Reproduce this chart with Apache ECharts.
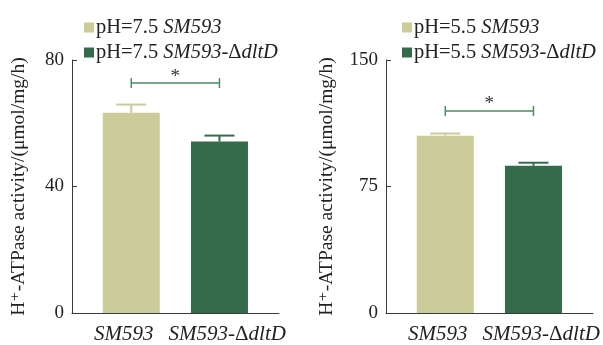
<!DOCTYPE html>
<html>
<head>
<meta charset="utf-8">
<script src="https://cdn.jsdelivr.net/npm/echarts@6/dist/echarts.min.js"></script>
<style>
html,body{margin:0;padding:0;background:#fff;}
#chart{width:603px;height:345px;}
</style>
</head>
<body>
<div id="chart"></div>
<script>
// ---- data ----
const categories = ['SM593', 'SM593-ΔdltD'];
const legend75 = ['pH=7.5 SM593', 'pH=7.5 SM593-ΔdltD'];
const legend55 = ['pH=5.5 SM593', 'pH=5.5 SM593-ΔdltD'];
const values75 = [63.3, 54.2];
const errors75 = [2.6, 1.9];
const values55 = [105.1, 87.3];
const errors55 = [1.3, 1.8];
const ticks75 = [0, 40, 80];
const ticks55 = [0, 75, 150];
const sig75 = [0, 1, 72.7];
const sig55 = [0, 1, 119.8];
const sigLabel = '*';
const yTitle = 'H⁺-ATPase activity/(μmol/mg/h)';

const colors = ['#CCCB9A', '#336B4B'];
const bracketColor = '#4E8A63';
const FONT = 'Liberation Serif, DejaVu Serif, serif';

function richName(s) {
  return s.replace(/SM593/g, '{i|SM593}').replace(/dltD/g, '{i|dltD}');
}
const rich = {
  i: { fontStyle: 'italic', fontFamily: FONT, fontSize: 20.5, color: '#222' },
};

function errorSeries(xi, yi, vals, errs) {
  return {
    type: 'custom', xAxisIndex: xi, yAxisIndex: yi, z: 3,
    data: vals.map((v, k) => [k, v, v + errs[k]]),
    renderItem: function (params, api) {
      const idx = params.dataIndex;
      const base = api.coord([api.value(0), api.value(1)]);
      const top = api.coord([api.value(0), api.value(2)]);
      const c = colors[idx];
      return {
        type: 'group', children: [
          { type: 'line', shape: { x1: base[0], y1: base[1], x2: top[0], y2: top[1] }, style: { stroke: c, lineWidth: 2 } },
          { type: 'line', shape: { x1: top[0] - 15, y1: top[1], x2: top[0] + 15, y2: top[1] }, style: { stroke: c, lineWidth: 2 } }
        ]
      };
    }
  };
}
function sigSeries(xi, yi, sig) {
  return {
    type: 'custom', xAxisIndex: xi, yAxisIndex: yi, z: 4,
    data: [sig],
    renderItem: function (params, api) {
      const a = api.coord([api.value(0), api.value(2)]);
      const b = api.coord([api.value(1), api.value(2)]);
      return {
        type: 'group', children: [
          { type: 'line', shape: { x1: a[0], y1: a[1], x2: b[0], y2: b[1] }, style: { stroke: bracketColor, lineWidth: 1.5 } },
          { type: 'line', shape: { x1: a[0], y1: a[1] - 5, x2: a[0], y2: a[1] + 5 }, style: { stroke: bracketColor, lineWidth: 1.5 } },
          { type: 'line', shape: { x1: b[0], y1: b[1] - 5, x2: b[0], y2: b[1] + 5 }, style: { stroke: bracketColor, lineWidth: 1.5 } },
          { type: 'text', style: { x: (a[0] + b[0]) / 2, y: a[1] + 3, text: sigLabel, fill: '#333', font: '19px ' + FONT, textAlign: 'center', textVerticalAlign: 'bottom' } }
        ]
      };
    }
  };
}

function barSeries(xi, yi, name, k, v) {
  return {
    type: 'bar', name: name, xAxisIndex: xi, yAxisIndex: yi,
    data: [[k, v]], barWidth: 57, barGap: '-100%',
    itemStyle: { color: colors[k] }
  };
}

const axisCol = '#3a3a3a';
function catAxis(gi) {
  return {
    type: 'category', gridIndex: gi, data: categories, boundaryGap: true,
    axisLine: { lineStyle: { color: axisCol, width: 1 } },
    axisTick: { show: false },
    axisLabel: {
      interval: 0, hideOverlap: false,
      margin: 11, color: '#222', fontSize: 21, fontFamily: FONT, fontStyle: 'italic',
      formatter: function (v) { return v.replace('Δ', '{u|Δ}'); },
      rich: { u: { fontStyle: 'normal', fontFamily: FONT, fontSize: 21, color: '#222' } }
    }
  };
}
function posAxis(gi) {
  return { type: 'value', gridIndex: gi, min: -0.672, max: 1.675, show: false };
}
function yAxis(gi, ticks, gap) {
  return {
    type: 'value', gridIndex: gi, min: ticks[0], max: ticks[ticks.length - 1],
    interval: ticks[1] - ticks[0],
    splitLine: { show: false },
    axisLine: { show: true, onZero: false, lineStyle: { color: axisCol, width: 1 } },
    axisTick: { show: true, inside: true, length: 5, lineStyle: { color: axisCol } },
    axisLabel: { margin: 8, color: '#222', fontSize: 19, fontFamily: FONT },
    name: yTitle, nameLocation: 'middle', nameRotate: 90, nameGap: gap,
    nameTextStyle: { fontSize: 19.5, fontFamily: FONT, color: '#222' }
  };
}

const chart = echarts.init(document.getElementById('chart'), null, { renderer: 'canvas' });
chart.setOption({
  animation: false,
  textStyle: { fontFamily: FONT },
  grid: [
    { left: 72, right: 324, top: 60, bottom: 32 },
    { left: 386, right: 10, top: 60, bottom: 32 }
  ],
  legend: [
    {
      data: legend75, left: 79, top: 12, orient: 'vertical', icon: 'rect', itemWidth: 10, itemHeight: 10, itemGap: 4,
      formatter: richName,
      textStyle: { fontSize: 20.5, fontFamily: FONT, color: '#222', rich: rich, padding: [0, 0, 0, -3] }
    },
    {
      data: legend55, left: 397, top: 12, orient: 'vertical', icon: 'rect', itemWidth: 10, itemHeight: 10, itemGap: 4,
      formatter: richName,
      textStyle: { fontSize: 20.5, fontFamily: FONT, color: '#222', rich: rich, padding: [0, 0, 0, -3] }
    }
  ],
  xAxis: [catAxis(0), catAxis(1), posAxis(0), posAxis(1)],
  yAxis: [yAxis(0, ticks75, 43), yAxis(1, ticks55, 49)],
  series: [
    barSeries(2, 0, legend75[0], 0, values75[0]),
    barSeries(2, 0, legend75[1], 1, values75[1]),
    barSeries(3, 1, legend55[0], 0, values55[0]),
    barSeries(3, 1, legend55[1], 1, values55[1]),
    errorSeries(2, 0, values75, errors75),
    errorSeries(3, 1, values55, errors55),
    sigSeries(2, 0, sig75),
    sigSeries(3, 1, sig55)
  ]
});
</script>
</body>
</html>
